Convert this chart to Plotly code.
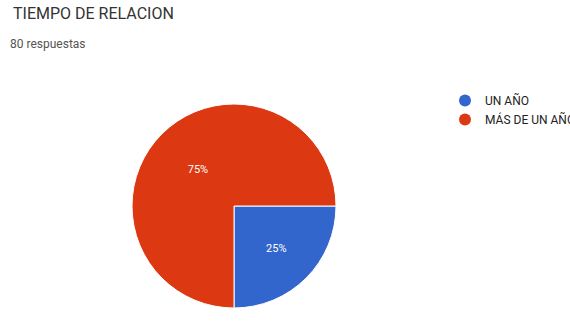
import plotly.graph_objects as go

title_text = "TIEMPO DE RELACION"
subtitle_text = "80 respuestas"
categories = ["UN AÑO", "MÁS DE UN AÑO"]
values = [25, 75]
colors = ["#3366CC", "#DC3912"]

W, H = 570, 324
cx, cy, r = 234, 206, 102

fig = go.Figure()
fig.add_trace(go.Pie(
    labels=categories,
    values=values,
    sort=False,
    direction="clockwise",
    rotation=90,
    marker=dict(colors=colors, line=dict(color="#ffffff", width=1)),
    textinfo="percent",
    texttemplate="%{percent:.0%}",
    textposition="inside",
    insidetextorientation="horizontal",
    textfont=dict(color="#ffffff", size=11, family="Roboto"),
    showlegend=False,
    hoverinfo="label+percent",
    domain=dict(x=[(cx - r) / W, (cx + r) / W], y=[(H - cy - r) / H, (H - cy + r) / H]),
))

for cat, col in zip(categories, colors):
    fig.add_trace(go.Scatter(
        x=[None], y=[None], mode="markers", name=cat,
        marker=dict(symbol="circle", size=9, color=col),
        showlegend=True,
    ))

fig.update_layout(
    width=W, height=H,
    margin=dict(l=0, r=0, t=0, b=0, autoexpand=False),
    paper_bgcolor="#ffffff",
    plot_bgcolor="#ffffff",
    font=dict(family="Roboto", color="#222222"),
    xaxis=dict(visible=False),
    yaxis=dict(visible=False),
    legend=dict(
        xref="container", yref="container",
        x=445 / W, y=1 - 86 / H, xanchor="left", yanchor="top",
        font=dict(size=12, color="#222222", family="Roboto"),
        itemsizing="constant",
        tracegroupgap=0,
        bgcolor="rgba(0,0,0,0)",
    ),
    annotations=[
        dict(text=title_text, xref="paper", yref="paper", x=11 / W, y=1 - 14 / H,
             xanchor="left", yanchor="middle", showarrow=False,
             font=dict(size=16, color="#333333", family="Roboto")),
        dict(text=subtitle_text, xref="paper", yref="paper", x=8 / W, y=1 - 44 / H,
             xanchor="left", yanchor="middle", showarrow=False,
             font=dict(size=12, color="#555555", family="Roboto")),
    ],
)

fig.write_html(
    "out.html",
    config={"displayModeBar": False},
    post_script="document.body.style.margin='0';document.body.style.overflow='hidden';",
)
